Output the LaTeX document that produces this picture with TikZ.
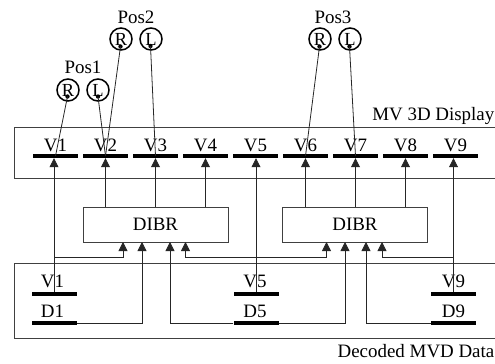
\documentclass[tikz,border=0pt]{standalone}
\usepackage{fontspec}
\setmainfont{Liberation Serif}
\usetikzlibrary{arrows.meta,calc}
\begin{document}
\begin{tikzpicture}[x=1bp,y=-1bp,
  txt/.style={font=\fontsize{19}{19}\selectfont,inner sep=0pt,anchor=base},
  bar/.style={fill=black,draw=none,minimum width=45bp,minimum height=4bp,inner sep=0pt},
  frame/.style={draw=black!75,line width=1bp},
  dibr/.style={draw=black!75,line width=1bp,minimum width=145bp,minimum height=35bp,inner sep=0pt,font=\fontsize{19}{19}\selectfont},
  eye/.style={circle,draw=black,line width=1.5bp,minimum size=22bp,inner sep=0pt,font=\fontsize{18.5}{18.5}\selectfont},
  wire/.style={draw=black!85,line width=0.8bp},
  arr/.style={wire,-{Triangle[length=9bp,width=9bp]}}]
\useasboundingbox (0,0) rectangle (495,363);
% boxes
\draw[frame] (14,127) rectangle (499,178);
\draw[frame] (14,263) rectangle (499,338);
\node[txt,anchor=base east] (lblmv) at (494.5,120) {MV 3D Display};
\node[txt,anchor=base east] (lbldec) at (494.5,357) {Decoded MVD Data};
% top bars
\foreach \i in {1,...,9}{
  \node[bar] (tV\i) at ({55.5+50*(\i-1)},156) {};
  \node[txt] (ltV\i) at ({55.5+50*(\i-1)},151) {V\i};
}
% DIBR
\node[dibr] (dibr1) at (155.5,224.5) {DIBR};
\node[dibr] (dibr2) at (355,224.5) {DIBR};
% bottom bars
\node[bar] (bV1) at (54,294) {};
\node[bar] (bD1) at (54,323) {};
\node[bar] (bV5) at (256,294) {};
\node[bar] (bD5) at (256,323) {};
\node[bar] (bV9) at (453.5,294) {};
\node[bar] (bD9) at (453.5,323) {};
\node[txt] (lbV1) at (52.5,287) {V1};
\node[txt] (lbD1) at (52.5,317) {D1};
\node[txt] (lbV5) at (255,287) {V5};
\node[txt] (lbD5) at (255,317) {D5};
\node[txt] (lbV9) at (453.5,287) {V9};
\node[txt] (lbD9) at (453.5,317) {D9};
% eyes
\node[eye] (p1R) at (68,90) {R};
\node[eye] (p1L) at (98,90) {L};
\node[eye] (p2R) at (121,39) {R};
\node[eye] (p2L) at (151,39) {L};
\node[eye] (p3R) at (320,39) {R};
\node[eye] (p3L) at (350,39) {L};
\node[txt] (pos1) at (83,73) {Pos1};
\node[txt] (pos2) at (136,23) {Pos2};
\node[txt] (pos3) at (333,23) {Pos3};
\coordinate (d1R) at (67.5,96.5);
\coordinate (d1L) at (98,96.5);
\coordinate (d2R) at (120.5,46.5);
\coordinate (d2L) at (150.5,46);
\coordinate (d3R) at (319.5,46.5);
\coordinate (d3L) at (349.5,46.5);
\foreach \c in {d1R,d1L,d2R,d2L,d3R,d3L} \fill (\c) circle (2.2bp);
\draw[wire] (d1R) -- (tV1.center);
\draw[wire] (d1L) -- (tV2.center);
\draw[wire] (d2R) -- (tV2.center);
\draw[wire] (d2L) -- (tV3.center);
\draw[wire] (d3R) -- (tV6.center);
\draw[wire] (d3L) -- (tV7.center);
% DIBR outputs
\foreach \v in {2,3,4} \draw[arr] (dibr1.north -| tV\v) -- (tV\v.south);
\foreach \v in {6,7,8} \draw[arr] (dibr2.north -| tV\v) -- (tV\v.south);
% DIBR inputs
\coordinate (hy) at (0,257);
\coordinate (i1a) at (123,242);
\coordinate (i1b) at (142,242);
\coordinate (i1c) at (170,242);
\coordinate (i1d) at (185.5,242);
\coordinate (i2a) at (326.5,242);
\coordinate (i2b) at (345,242);
\coordinate (i2c) at (366,242);
\coordinate (i2d) at (382,242);
\draw[arr] (bV1.north) -- (tV1.south -| bV1.north);
\draw[arr] (bV1.north |- hy) -| (i1a);
\draw[arr] (bD1.east) -| (i1b);
\draw[arr] (bD5.west) -| (i1c);
\draw[arr] (bD5.east) -| (i2b);
\draw[arr] (bV5.north) -- (tV5.south -| bV5.north);
\draw[arr] (bV5.north |- hy) -| (i1d);
\draw[arr] (bV5.north |- hy) -| (i2a);
\draw[arr] (bV9.north) -- (tV9.south -| bV9.north);
\draw[arr] (bV9.north |- hy) -| (i2d);
\draw[arr] (bD9.west) -| (i2c);
\end{tikzpicture}
\end{document}
